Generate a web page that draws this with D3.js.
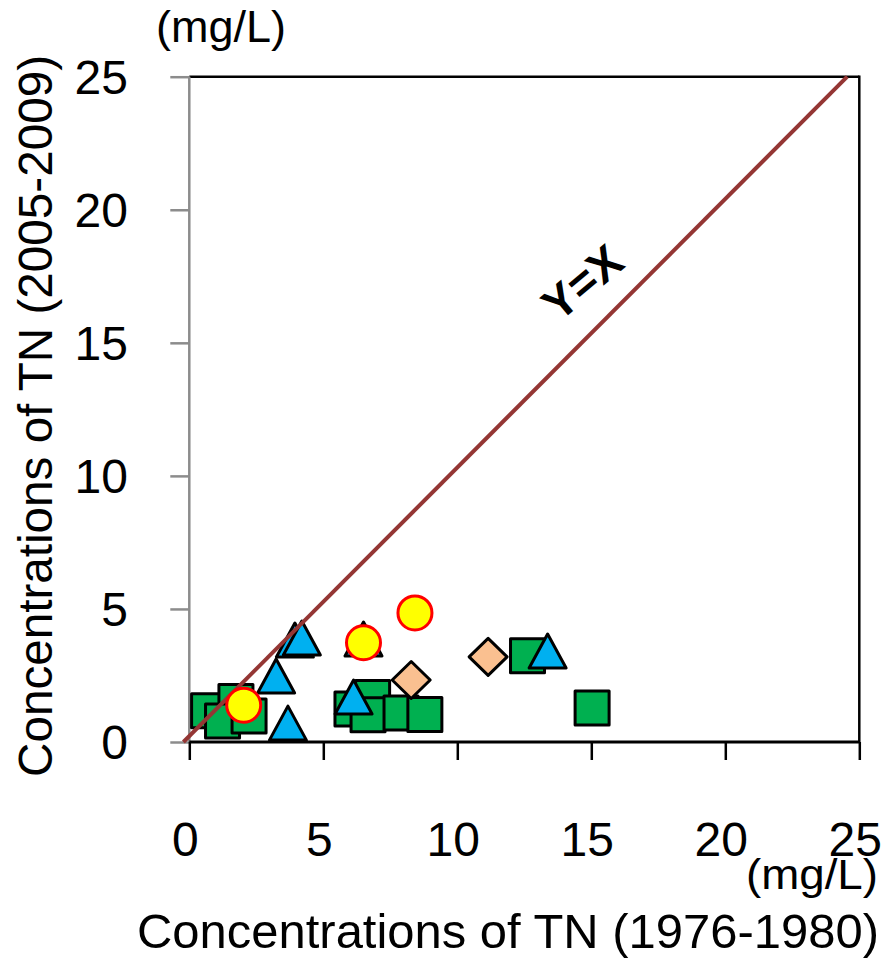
<!DOCTYPE html>
<html>
<head>
<meta charset="utf-8">
<script src="https://cdn.jsdelivr.net/npm/d3@7"></script>
<style>
  html, body { margin: 0; padding: 0; background: #fff; }
  svg { display: block; }
  text { font-family: "Liberation Sans", Arial, sans-serif; fill: #000; }
</style>
</head>
<body>
<svg id="chart" width="885" height="960"></svg>
<script>
// ---- data ----
const xTicks = [0, 5, 10, 15, 20, 25];
const yTicks = [0, 5, 10, 15, 20, 25];

const squareX = [0.72, 1.74, 1.24, 2.23, 6.07, 6.84, 6.67, 7.90, 8.79, 12.62, 15.03];
const squareY = [1.17, 1.52, 0.79, 0.98, 1.24, 1.67, 1.02, 1.09, 1.03, 3.24, 1.28];

const triangleX = [6.50, 3.94, 4.20, 3.24, 3.68, 6.13, 13.37];
const triangleY = [3.87, 3.83, 3.91, 2.48, 0.71, 1.69, 3.42];

const diamondX = [8.28, 11.15];
const diamondY = [2.33, 3.20];

const circleX = [8.42, 6.50, 2.03];
const circleY = [4.85, 3.73, 1.38];

const lineX = [-0.22, 24.55];
const lineY = [0, 25];

const xTitle = "Concentrations of TN (1976-1980)";
const yTitle = "Concentrations of TN (2005-2009)";
const unitLabel = "(mg/L)";
const lineLabel = "Y=X";

// ---- layout ----
const svg = d3.select("#chart");
const x = d3.scaleLinear().domain([0, 25]).range([189.3, 859.3]);
const y = d3.scaleLinear().domain([0, 25]).range([742, 76.7]);

// frame: top and right borders
svg.append("line").attr("x1", x(0)).attr("x2", x(25)).attr("y1", y(25)).attr("y2", y(25))
  .attr("stroke", "#000").attr("stroke-width", 2.5);
svg.append("line").attr("x1", x(25)).attr("x2", x(25)).attr("y1", y(25) - 1.2).attr("y2", y(0))
  .attr("stroke", "#000").attr("stroke-width", 2.5);

// y axis (gray)
const yAxis = svg.append("g").attr("transform", `translate(${x(0)},0)`)
  .call(d3.axisLeft(y).tickValues(yTicks).tickSize(19).tickFormat(""));
yAxis.select(".domain").attr("stroke", "#8c8c8c").attr("stroke-width", 2.5)
  .attr("d", `M0,${y(25)}V${y(0)}`);
yAxis.selectAll(".tick line").attr("stroke", "#8c8c8c").attr("stroke-width", 2.5);

// x axis (black)
const xAxis = svg.append("g").attr("transform", `translate(0,${y(0)})`)
  .call(d3.axisBottom(x).tickValues(xTicks).tickSize(18).tickFormat(""));
xAxis.select(".domain").attr("stroke", "#000").attr("stroke-width", 3)
  .attr("d", `M${x(0)},0H${x(25)}`);
xAxis.selectAll(".tick line").attr("stroke", "#000").attr("stroke-width", 2.5);

// tick labels
svg.append("g").selectAll("text").data(yTicks).join("text")
  .attr("x", 128).attr("y", d => y(d))
  .attr("dy", "0.36em")
  .attr("text-anchor", "end")
  .attr("font-size", 48)
  .text(d => d);

svg.append("g").selectAll("text").data(xTicks).join("text")
  .attr("x", d => x(d) - 4).attr("y", 856)
  .attr("text-anchor", "middle")
  .attr("font-size", 48)
  .text(d => d);

// markers
const sq = 34;
const squareSym = { draw(ctx) { ctx.rect(-sq/2, -sq/2, sq, sq); } };
const triW = 37, triH = 34;
const triSym = { draw(ctx) { ctx.moveTo(0, -triH/2); ctx.lineTo(triW/2, triH/2); ctx.lineTo(-triW/2, triH/2); ctx.closePath(); } };
const dW = 38, dH = 37;
const diaSym = { draw(ctx) { ctx.moveTo(0, -dH/2); ctx.lineTo(dW/2, 0); ctx.lineTo(0, dH/2); ctx.lineTo(-dW/2, 0); ctx.closePath(); } };

svg.append("g").selectAll("path").data(squareX.map((d, i) => [d, squareY[i]])).join("path")
  .attr("d", d3.symbol().type(squareSym))
  .attr("transform", d => `translate(${x(d[0])},${y(d[1])})`)
  .attr("fill", "#00B050").attr("stroke", "#000").attr("stroke-width", 3).attr("stroke-linejoin", "round");

svg.append("g").selectAll("path").data(triangleX.map((d, i) => [d, triangleY[i]])).join("path")
  .attr("d", d3.symbol().type(triSym))
  .attr("transform", d => `translate(${x(d[0])},${y(d[1])})`)
  .attr("fill", "#00B0F0").attr("stroke", "#000").attr("stroke-width", 3).attr("stroke-linejoin", "round");

svg.append("g").selectAll("path").data(diamondX.map((d, i) => [d, diamondY[i]])).join("path")
  .attr("d", d3.symbol().type(diaSym))
  .attr("transform", d => `translate(${x(d[0])},${y(d[1])})`)
  .attr("fill", "#FAC090").attr("stroke", "#000").attr("stroke-width", 3).attr("stroke-linejoin", "round");

// Y=X line
svg.append("path")
  .datum(lineX.map((d, i) => [d, lineY[i]]))
  .attr("d", d3.line().x(d => x(d[0])).y(d => y(d[1])))
  .attr("stroke", "#943634").attr("stroke-width", 4).attr("fill", "none");

svg.append("g").selectAll("circle").data(circleX.map((d, i) => [d, circleY[i]])).join("circle")
  .attr("cx", d => x(d[0])).attr("cy", d => y(d[1])).attr("r", 17)
  .attr("fill", "#FFFF00").attr("stroke", "#FF0000").attr("stroke-width", 3);

// line label
svg.append("text")
  .attr("transform", "translate(582,282) rotate(-40)")
  .attr("text-anchor", "middle").attr("dy", "0.36em")
  .attr("font-size", 46).attr("font-weight", "bold")
  .text(lineLabel);

// units
svg.append("text").attr("x", 221).attr("y", 42).attr("text-anchor", "middle")
  .attr("font-size", 44).attr("textLength", 130).attr("lengthAdjust", "spacingAndGlyphs")
  .text(unitLabel);
svg.append("text").attr("x", 812).attr("y", 889).attr("text-anchor", "middle")
  .attr("font-size", 42).attr("textLength", 132).attr("lengthAdjust", "spacingAndGlyphs")
  .text(unitLabel);

// axis titles
svg.append("text").attr("x", 508).attr("y", 948).attr("text-anchor", "middle")
  .attr("font-size", 48).attr("textLength", 742).attr("lengthAdjust", "spacingAndGlyphs")
  .text(xTitle);
svg.append("text").attr("transform", "translate(52,416) rotate(-90)").attr("text-anchor", "middle")
  .attr("font-size", 48).attr("textLength", 722).attr("lengthAdjust", "spacingAndGlyphs")
  .text(yTitle);
</script>
</body>
</html>
